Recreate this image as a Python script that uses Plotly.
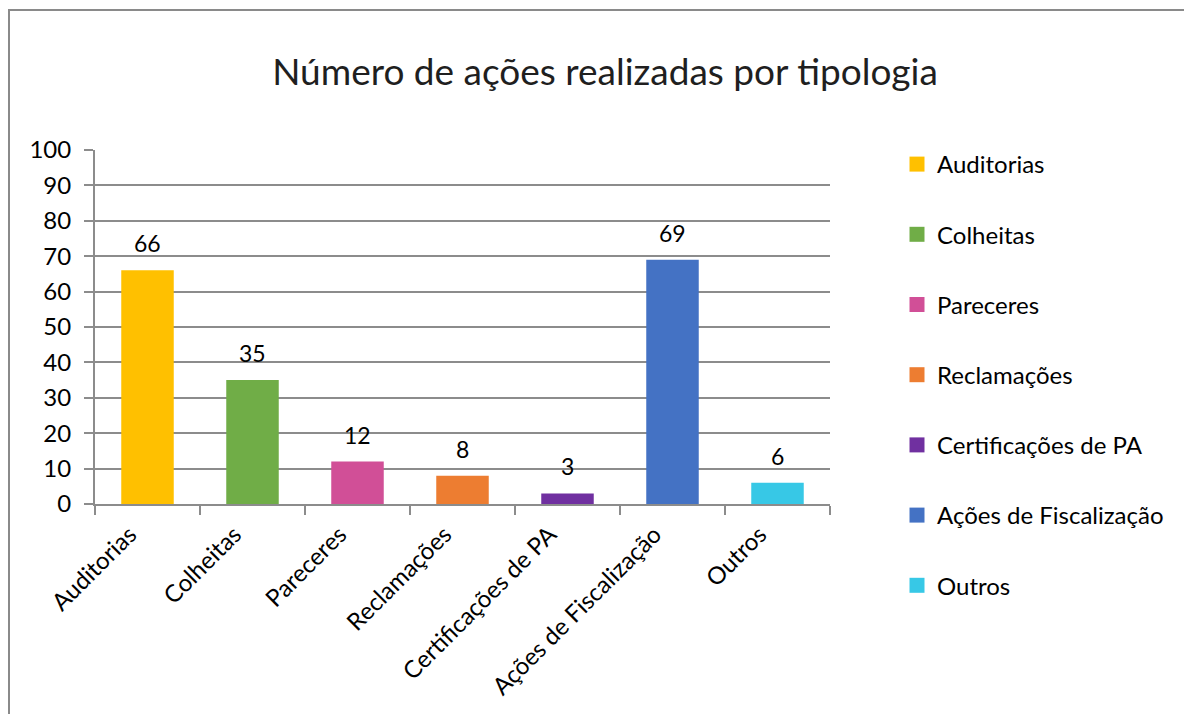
import plotly.graph_objects as go

categories = ["Auditorias", "Colheitas", "Pareceres", "Reclamações",
              "Certificações de PA", "Ações de Fiscalização", "Outros"]
values = [66, 35, 12, 8, 3, 69, 6]
colors = ["#FFC000", "#70AD47", "#D14F97", "#ED7D31", "#7030A0", "#4472C4", "#37C8E6"]
y_ticks = [0, 10, 20, 30, 40, 50, 60, 70, 80, 90, 100]
title_text = "Número de ações realizadas por tipologia"

FONT = "Lato"
GRID = "#8c8c8c"

# page has an 8px body margin; figure coords = screen coords - 8
W, H = 1176, 706
L, R, T, B = 87, 354, 142, 210
pw, ph = W - L - R, H - T - B

fig = go.Figure()
for c, v, col in zip(categories, values, colors):
    fig.add_trace(go.Bar(x=[c], y=[v], marker=dict(color=col, line=dict(width=0)),
                         width=0.5, showlegend=False, hoverinfo="x+y"))
for i, (c, col) in enumerate(zip(categories, colors)):
    fig.add_trace(go.Scatter(x=[None], y=[None], mode="markers", name=c,
                             legendgroup=f"g{i}",
                             marker=dict(symbol="square", size=15, color=col)))

annotations = []
for c, v in zip(categories, values):
    annotations.append(dict(x=c, y=v, xref="x", yref="y", text=str(v), showarrow=False,
                            yanchor="bottom", yshift=11,
                            font=dict(family=FONT, size=23, color="#000000")))

# frame: left and top edges only (the right/bottom edges lie outside the picture)
bx0 = (1 - L) / pw
bx1 = (W + 20 - L) / pw
by0 = -(H + 20 - T - ph) / ph
by1 = 1 + (T - 2) / ph
frame_path = f"M {bx0},{by0} L {bx0},{by1} L {bx1},{by1}"

fig.update_layout(
    width=W, height=H,
    margin=dict(l=L, r=R, t=T, b=B),
    paper_bgcolor="white", plot_bgcolor="white",
    barmode="overlay",
    title=dict(text=title_text, x=(597 - L) / pw, xref="paper", xanchor="center",
               y=1 - 64 / H, yanchor="middle",
               font=dict(family=FONT, size=37, color="#1f1f1f")),
    font=dict(family=FONT, size=24, color="#000000"),
    annotations=annotations,
    legend=dict(x=(889 - L) / pw, xanchor="left", y=1 + 8 / ph, yanchor="top",
                font=dict(family=FONT, size=24, color="#000000"),
                tracegroupgap=36, bgcolor="rgba(0,0,0,0)", maxheight=700),
    showlegend=True,
    shapes=[dict(type="path", xref="paper", yref="paper", path=frame_path,
                 line=dict(color="#8a8a8a", width=2), layer="below")],
)
fig.update_xaxes(
    type="category", categoryorder="array", categoryarray=categories,
    tickangle=-45, tickson="boundaries", ticks="outside", ticklen=9,
    tickcolor=GRID, tickwidth=2, showline=True, linecolor=GRID, linewidth=2,
    showgrid=False, tickfont=dict(family=FONT, size=24, color="#000000"),
    ticklabelshift=-18, ticklabelstandoff=5,
)
fig.update_yaxes(
    range=[0, 100], tickvals=y_ticks, ticks="outside", ticklen=9, tickcolor=GRID,
    tickwidth=2, showline=True, linecolor=GRID, linewidth=2,
    showgrid=True, gridcolor=GRID, gridwidth=1.5, zeroline=False,
    tickfont=dict(family=FONT, size=24, color="#000000"), ticklabelstandoff=8,
)

fig.write_html("out.html")
